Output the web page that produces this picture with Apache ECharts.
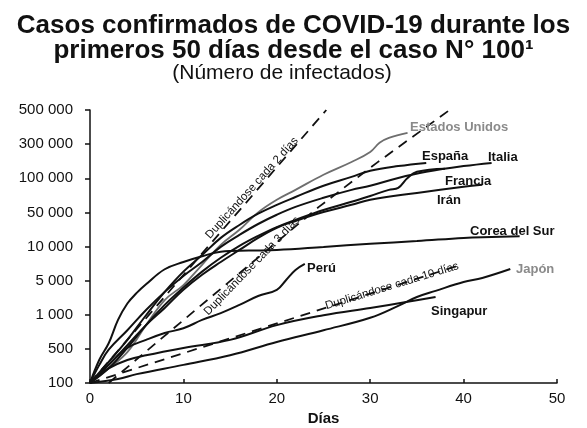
<!DOCTYPE html>
<html>
<head>
<meta charset="utf-8">
<script src="https://cdn.jsdelivr.net/npm/echarts@6/dist/echarts.min.js"></script>
<style>
  html, body { margin: 0; padding: 0; background: #fff; }
  #chart { width: 587px; height: 428px; }
</style>
</head>
<body>
<div id="chart"></div>
<script>
// eje Y: marcas equiespaciadas con valores no uniformes (como en el original)
const yTicks = [100, 500, 1000, 5000, 10000, 50000, 100000, 300000, 500000];
const yTickLabels = ['100', '500', '1 000', '5 000', '10 000', '50 000', '100 000', '300 000', '500 000'];
const xTicks = [0, 10, 20, 30, 40, 50];

// casos confirmados por día desde el caso 100
const daysEEUU = [0, 2, 4, 6, 8, 10, 12, 14, 16, 18, 20, 22, 25, 28, 30, 31, 32, 34];
const casesEEUU = [100, 200, 430, 810, 2000, 4060, 6900, 10800, 22000, 50000, 64600, 79000, 112000, 169000, 233000, 306000, 329000, 355000];

const daysEspana = [0, 2, 4, 6, 8, 10, 12, 14, 16, 18, 20, 22, 25, 28, 30, 33, 36];
const casesEspana = [100, 270, 600, 990, 2940, 6000, 8400, 15000, 27600, 46900, 58300, 68300, 85900, 104500, 127000, 148000, 164000];

const daysItalia = [0, 1, 2, 4, 6, 8, 10, 12, 14, 16, 18, 20, 22, 25, 28, 30, 33, 36, 40, 43];
const casesItalia = [100, 235, 480, 730, 1250, 2940, 5500, 7300, 9930, 17300, 28900, 44700, 55900, 67300, 79000, 85900, 101000, 123000, 148000, 164000];

const daysFrancia = [0, 2, 4, 6, 8, 10, 12, 14, 16, 18, 20, 22, 25, 28, 30, 32, 33, 34, 35, 38];
const casesFrancia = [100, 200, 510, 810, 1590, 3600, 6000, 7950, 10300, 16500, 25000, 35100, 52500, 62000, 69800, 79000, 82300, 101000, 123000, 136000];

const daysIran = [0, 2, 4, 6, 8, 10, 12, 14, 16, 18, 20, 22, 25, 28, 30, 35, 40, 42];
const casesIran = [100, 235, 540, 810, 1380, 3240, 5630, 7300, 9330, 15000, 24200, 33400, 50300, 58300, 64600, 74200, 84100, 87700];

const daysCorea = [0, 1, 2, 3, 4, 5, 6, 8, 10, 12, 14, 17, 20, 25, 30, 35, 40, 43, 46];
const casesCorea = [100, 300, 560, 900, 1700, 2800, 4200, 6300, 7300, 8200, 9000, 9200, 9300, 9900, 11400, 12900, 15000, 15700, 16300];

const daysPeru = [0, 2, 4, 6, 8, 10, 12, 14, 16, 18, 20, 21, 22, 23];
const casesPeru = [100, 235, 510, 600, 690, 760, 900, 1080, 1590, 2420, 3240, 5070, 6200, 7020];

const daysJapon = [0, 3, 5, 10, 15, 20, 25, 30, 33, 35, 37, 40, 42, 45];
const casesJapon = [100, 121, 152, 235, 370, 575, 730, 940, 1520, 2310, 3090, 4690, 5280, 6330];

const daysSingapur = [0, 1, 2, 4, 6, 10, 15, 20, 25, 30, 34, 37];
const casesSingapur = [100, 145, 200, 295, 370, 510, 600, 810, 990, 1380, 1840, 2310];

// rectas de referencia (duplicación)
const daysDup2 = [0, 25.3];
const casesDup2 = [100, 500000];
const daysDup3 = [2, 5.8, 16.8, 24.5, 30.7, 38.5];
const casesDup3 = [100, 412, 6600, 55900, 164000, 500000];
const daysDup10 = [0, 39.7];
const casesDup10 = [100, 6900];

// valor -> posición en el eje (interpolación logarítmica entre marcas)
function toLevel(v) {
  for (let i = 0; i < yTicks.length - 1; i++) {
    if (v <= yTicks[i + 1]) {
      return i + Math.log(v / yTicks[i]) / Math.log(yTicks[i + 1] / yTicks[i]);
    }
  }
  return yTicks.length - 1;
}
function pts(days, cases) {
  return days.map((d, i) => [d, toLevel(cases[i])]);
}

function solid(name, days, cases, color, width) {
  return {
    name, type: 'line', data: pts(days, cases), symbol: 'none', smooth: 0.4,
    lineStyle: { color: color || '#111', width: width || 2 }, z: 3
  };
}
function dashed(name, days, cases) {
  return {
    name, type: 'line', data: pts(days, cases), symbol: 'none',
    lineStyle: { color: '#111', width: 1.8, type: [10, 7] }, z: 2
  };
}

const FONT = '"Liberation Sans", Arial, sans-serif';
function lbl(x, y, text, color) {
  return { type: 'text', x, y, z: 10, style: { text, font: 'bold 13px ' + FONT, fill: color || '#111', textVerticalAlign: 'middle' } };
}
function rotLbl(x, y, text, deg) {
  return {
    type: 'text', x, y, rotation: deg * Math.PI / 180,
    style: { text, font: '11.5px ' + FONT, fill: '#111', textAlign: 'center', textVerticalAlign: 'middle' }
  };
}

const chart = echarts.init(document.getElementById('chart'), null, { renderer: 'canvas' });
chart.setOption({
  animation: false,
  backgroundColor: '#fff',
  title: {
    text: 'Casos confirmados de COVID-19 durante los\nprimeros 50 días desde el caso N° 100¹',
    left: 'center', top: 8,
    textStyle: { fontFamily: FONT, fontSize: 26, fontWeight: 'bold', color: '#111', lineHeight: 25 }
  },
  grid: { left: 90, right: 30, top: 110, bottom: 45, outerBoundsMode: 'none' },
  xAxis: {
    type: 'value', min: 0, max: 50, interval: 10,
    name: 'Días', nameLocation: 'middle', nameGap: 28,
    nameTextStyle: { fontFamily: FONT, fontSize: 15, fontWeight: 'bold', color: '#111' },
    axisLine: { lineStyle: { color: '#111', width: 1.5 } },
    axisTick: { inside: true, length: 4, lineStyle: { color: '#111', width: 1.5 } },
    axisLabel: {
      fontFamily: FONT, fontSize: 15, color: '#111', margin: 8,
      formatter: v => xTicks.includes(v) ? String(v) : ''
    },
    splitLine: { show: false }
  },
  yAxis: {
    type: 'value', min: 0, max: yTicks.length - 1, interval: 1,
    axisLine: { show: true, lineStyle: { color: '#111', width: 1.5 } },
    axisTick: { show: true, length: 5, lineStyle: { color: '#111', width: 1.5 } },
    axisLabel: {
      fontFamily: FONT, fontSize: 15, color: '#111', margin: 17,
      formatter: v => yTickLabels[v] || ''
    },
    splitLine: { show: false }
  },
  series: [
    dashed('Duplicándose cada 2 días', daysDup2, casesDup2),
    dashed('Duplicándose cada 3 días', daysDup3, casesDup3),
    dashed('Duplicándose cada 10 días', daysDup10, casesDup10),
    solid('Estados Unidos', daysEEUU, casesEEUU, '#6e6e6e', 1.8),
    solid('España', daysEspana, casesEspana),
    solid('Italia', daysItalia, casesItalia),
    solid('Francia', daysFrancia, casesFrancia),
    solid('Irán', daysIran, casesIran),
    solid('Corea del Sur', daysCorea, casesCorea),
    solid('Perú', daysPeru, casesPeru),
    solid('Japón', daysJapon, casesJapon),
    solid('Singapur', daysSingapur, casesSingapur)
  ],
  graphic: [
    { type: 'text', x: 282, y: 73, style: { text: '(Número de infectados)', font: '21px ' + FONT, fill: '#111', textAlign: 'center', textVerticalAlign: 'middle' } },
    lbl(410, 127, 'Estados Unidos', '#8a8a8a'),
    lbl(422, 156, 'España'),
    lbl(488, 157, 'Italia'),
    lbl(445, 181, 'Francia'),
    lbl(437, 200, 'Irán'),
    lbl(470, 231, 'Corea del Sur'),
    lbl(307, 268, 'Perú'),
    lbl(516, 269, 'Japón', '#8a8a8a'),
    lbl(431, 311, 'Singapur'),
    rotLbl(252, 188, 'Duplicándose cada 2 días', 48),
    rotLbl(252, 266, 'Duplicándose cada 3 días', 46),
    rotLbl(392, 286, 'Duplicándose cada 10 días', 17)
  ]
});
</script>
</body>
</html>
